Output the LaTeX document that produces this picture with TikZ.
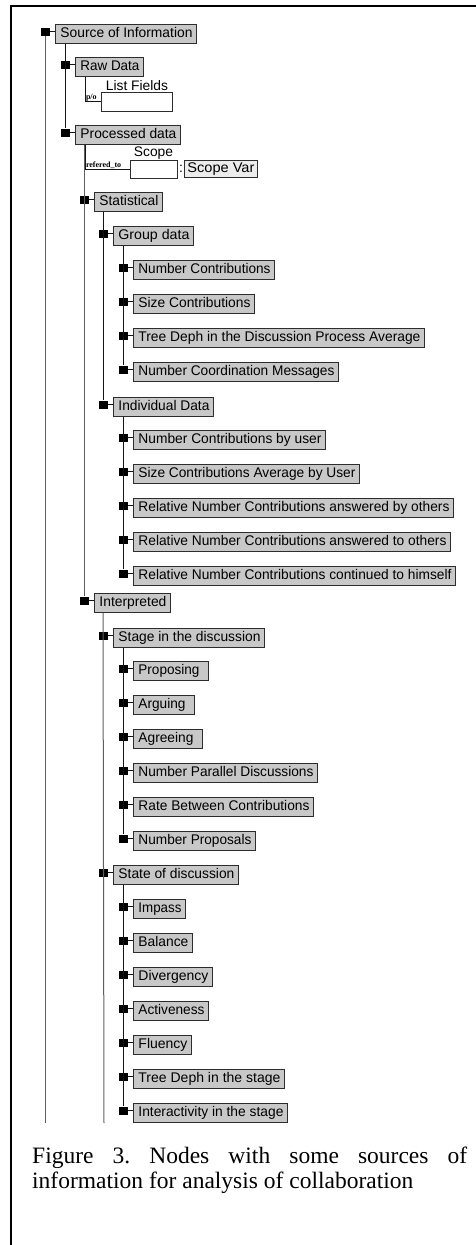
\documentclass[tikz,border=0pt]{standalone}
\usepackage{fontspec}
\usepackage{graphicx}
\setmainfont{Liberation Serif}
\newfontfamily\guifont{Liberation Sans}
\newfontfamily\capfont{Liberation Serif}
\definecolor{boxfill}{RGB}{200,200,200}
\definecolor{boxline}{RGB}{45,45,45}
\definecolor{treeline}{RGB}{20,20,20}
\definecolor{softline}{RGB}{95,95,95}
\definecolor{varfill}{RGB}{236,236,236}

% one tree entry: [right padding], name, left x, top y, right x, text
% the label is fitted to the box width between the paddings
\newcommand\treeentry[6][4]{%
  \node[tbox, minimum width={#5pt-#3pt}] (#2) at (#3,#4)
    {\makebox[\dimexpr #5pt-#3pt\relax][l]{\hspace*{5pt}%
      \resizebox{\dimexpr #5pt-#3pt-5pt-#1pt\relax}{\height}{#6}}};
  \node[tmark] (#2-m) at ({#3-10},{#4+7.5}) {};
  \draw[treeline] (#2-m.east) -- (#2-m.east -| #2.west);
}

\begin{document}
\frenchspacing
\begin{tikzpicture}[x=1pt, y=-1pt,
  tbox/.style={draw=boxline, fill=boxfill, line width=0.9pt, anchor=north west,
    inner xsep=0pt, inner ysep=0pt, minimum height=19pt, align=left,
    text height=11pt, text depth=3pt, font=\guifont\fontsize{14}{16}\selectfont},
  tmark/.style={fill=black, inner sep=0pt, minimum width=9pt, minimum height=8pt},
  treeline/.style={draw=treeline, line width=1pt},
  softtree/.style={draw=softline, line width=1pt},
  whitebox/.style={draw=boxline, fill=white, line width=0.9pt, anchor=north west,
    inner sep=0pt},
  guitext/.style={font=\guifont\fontsize{13.8}{16}\selectfont, inner sep=0pt},
  linklabel/.style={font=\capfont\bfseries\fontsize{8}{9}\selectfont, inner sep=0.5pt}
]
\useasboundingbox (0,0) rectangle (476,1245);

% page frame
\draw[line width=2pt] (476,5.5) -- (11,5.5) -- (11,1245);

% tree entries
\treeentry{src}{55}{24}{196}{Source of Information}
\treeentry{raw}{75}{57}{143}{Raw Data}
\treeentry{proc}{75}{125}{180}{Processed data}
\treeentry{stat}{94}{192}{162}{Statistical}
\treeentry{grp}{113}{226}{193}{Group data}
\treeentry{nc}{133}{260}{274}{Number Contributions}
\treeentry{sc}{133}{294}{254}{Size Contributions}
\treeentry{td}{133}{328}{424}{Tree Deph in the Discussion Process Average}
\treeentry{ncm}{133}{362}{338}{Number Coordination Messages}
\treeentry{ind}{113}{397}{213}{Individual Data}
\treeentry{ncu}{133}{430}{325}{Number Contributions by user}
\treeentry{sca}{133}{464}{359}{Size Contributions Average by User}
\treeentry{rbo}{133}{498}{453}{Relative Number Contributions answered by others}
\treeentry{rto}{133}{532}{450}{Relative Number Contributions answered to others}
\treeentry{rch}{133}{566}{455}{Relative Number Contributions continued to himself}
\treeentry{intp}{94}{593}{170}{Interpreted}
\treeentry{stg}{113}{628}{264}{Stage in the discussion}
\treeentry[9]{prop}{133}{661}{208}{Proposing}
\treeentry[9]{arg}{133}{695}{194}{Arguing}
\treeentry[9]{agr}{133}{729}{202}{Agreeing}
\treeentry{npd}{133}{763}{317}{Number Parallel Discussions}
\treeentry{rbc}{133}{797}{313}{Rate Between Contributions}
\treeentry{npr}{133}{831}{255}{Number Proposals}
\treeentry{sod}{113}{865}{238}{State of discussion}
\treeentry{imp}{133}{899}{185}{Impass}
\treeentry{bal}{133}{933}{192}{Balance}
\treeentry{div}{133}{967}{212}{Divergency}
\treeentry{act}{133}{1001}{208}{Activeness}
\treeentry{flu}{133}{1035}{191}{Fluency}
\treeentry{tds}{133}{1069}{284}{Tree Deph in the stage}
\treeentry{its}{133}{1103}{287}{Interactivity in the stage}

% open ends of the lines that run past the visible part
\coordinate (rootend) at (45,1123);
\coordinate (intpend) at (104,1123);

% parent-to-children lines
\draw[softtree] (src-m.south) -- (rootend);
\draw[treeline] (src.south -| raw-m) -- (proc-m.north);
\draw[softtree] (proc.south -| stat-m) -- (intp-m.north);
\draw[treeline] (stat.south -| grp-m) -- (ind-m.north);
\draw[treeline] (grp.south -| nc-m) -- (ncm-m.north);
\draw[treeline] (ind.south -| ncu-m) -- (rch-m.north);
\draw[softtree] (intp.south -| stg-m) -- (intpend);
\draw[treeline] (stg.south -| prop-m) -- (npr-m.north);
\draw[treeline] (sod.south -| imp-m) -- (its-m.north);

% part-of link to the list of fields
\node[whitebox, minimum width=71pt, minimum height=19pt] (lf) at (101,92) {};
\node[guitext, anchor=base] (lft) at (137,90) {List Fields};
\draw[treeline] ([xshift=10pt]raw.south west) |-
  node[pos=0.5, linklabel, anchor=south west] {p/o} (lf.west);

% scope link with its variable
\node[whitebox, minimum width=47pt, minimum height=18pt] (scope) at (130,160) {};
\node[guitext, anchor=base] (scopet) at (153.5,156) {Scope};
\draw[treeline] ([xshift=10pt]proc.south west) |-
  node[pos=0.5, linklabel, anchor=south west] {refered\_to} (scope.west);
\node[guitext, anchor=center] (colon) at (181,169) {:};
\node[draw=boxline, fill=varfill, line width=0.9pt, anchor=north west,
  inner xsep=0pt, inner ysep=0pt, minimum width=73pt, minimum height=17pt,
  text height=11pt, text depth=3pt, font=\guifont\fontsize{14}{16}\selectfont]
  (scopevar) at (184,160) {\resizebox{67pt}{\height}{Scope Var}};

% caption
\node[font=\capfont\fontsize{23.5}{25}\selectfont, anchor=base west, inner sep=0pt]
  (cap1) at (32,1163) {\makebox[435pt][s]{Figure 3. Nodes with some sources of}};
\node[font=\capfont\fontsize{23.5}{25}\selectfont, anchor=base west, inner sep=0pt]
  (cap2) at (32,1188) {information for analysis of collaboration};
\end{tikzpicture}
\end{document}
